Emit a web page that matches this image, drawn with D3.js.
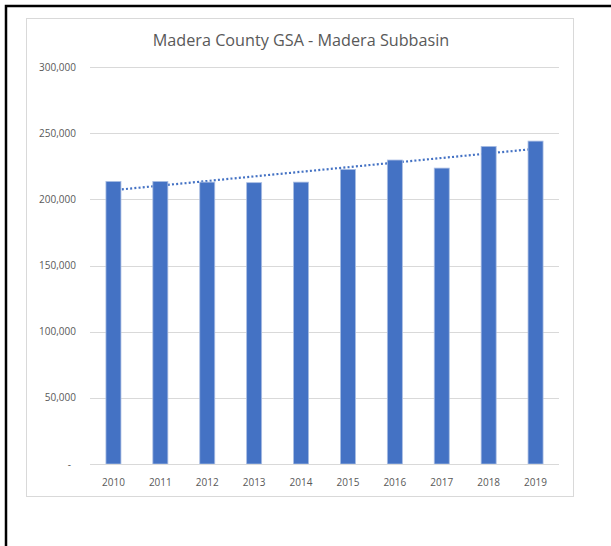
<!DOCTYPE html>
<html>
<head>
<meta charset="utf-8">
<script src="https://cdn.jsdelivr.net/npm/d3@7"></script>
<style>
  html, body { margin: 0; padding: 0; background: #fff; }
  svg { display: block; }
  text { font-family: "Open Sans", "Liberation Sans", sans-serif; fill: #595959; }
</style>
</head>
<body>
<svg id="chart" width="611" height="546"></svg>
<script>
// Madera County GSA - Madera Subbasin (bar + linear trendline)
var years = ['2010', '2011', '2012', '2013', '2014', '2015', '2016', '2017', '2018', '2019'];
var values = [213500, 213500, 213000, 212600, 213000, 222600, 229700, 223600, 240000, 244000];
var yTicks = [0, 50000, 100000, 150000, 200000, 250000, 300000];
var title = 'Madera County GSA - Madera Subbasin';

(function () {
  var svg = d3.select('#chart');
  var M = { left: 90, right: 559, top: 67, bottom: 464 };

  // outer black border (page) + light chart frame
  svg.append('path').attr('d', 'M6,546 L6,6 L611,6').attr('fill', 'none').attr('stroke', '#000').attr('stroke-width', 2.5);
  svg.append('rect').attr('x', 26.5).attr('y', 18.5).attr('width', 547).attr('height', 478)
    .attr('fill', '#fff').attr('stroke', '#d9d9d9').attr('stroke-width', 1);

  var x = d3.scaleBand().domain(years).range([M.left, M.right]).paddingInner(0.68).paddingOuter(0.34);
  var y = d3.scaleLinear().domain([0, 300000]).range([M.bottom, M.top]);

  // gridlines
  svg.append('g').selectAll('line').data(yTicks.slice(1)).enter().append('line')
    .attr('x1', M.left).attr('x2', M.right)
    .attr('y1', function (d) { return Math.round(y(d)) + 0.5; }).attr('y2', function (d) { return Math.round(y(d)) + 0.5; })
    .attr('stroke', '#d9d9d9').attr('stroke-width', 1);

  // y axis labels
  var fmt = d3.format(',');
  svg.append('g').selectAll('text').data(yTicks).enter().append('text')
    .attr('x', function (d) { return d === 0 ? 71 : 76; })
    .attr('y', function (d) { return y(d); }).attr('dy', '0.35em')
    .attr('text-anchor', 'end').attr('font-size', 10)
    .text(function (d) { return d === 0 ? '-' : fmt(d); });

  // linear trendline (least squares on the bar values), drawn under the bars
  var n = values.length, mx = (n - 1) / 2, my = d3.mean(values), sxy = 0, sxx = 0;
  values.forEach(function (v, i) { sxy += (i - mx) * (v - my); sxx += (i - mx) * (i - mx); });
  var slope = sxy / sxx, icpt = my - slope * mx;
  var trend = [0, n - 1].map(function (i) { return [x(years[i]) + x.bandwidth() / 2, y(icpt + slope * i)]; });
  svg.append('path').attr('d', d3.line()(trend)).attr('fill', 'none')
    .attr('stroke', '#4472c4').attr('stroke-width', 2.2).attr('stroke-dasharray', '2,2.2');

  // bars
  svg.append('g').selectAll('rect').data(values).enter().append('rect')
    .attr('x', function (d, i) { return x(years[i]); })
    .attr('width', x.bandwidth())
    .attr('y', function (d) { return y(d); })
    .attr('height', function (d) { return y(0) - y(d); })
    .attr('fill', '#4472c4').attr('stroke', '#a9bde3').attr('stroke-width', 0.8);

  // baseline
  svg.append('line').attr('x1', M.left).attr('x2', M.right).attr('y1', M.bottom + 0.5).attr('y2', M.bottom + 0.5)
    .attr('stroke', '#d9d9d9');

  // x labels
  svg.append('g').selectAll('text').data(years).enter().append('text')
    .attr('x', function (d) { return x(d) + x.bandwidth() / 2; })
    .attr('y', 482).attr('dy', '0.35em').attr('text-anchor', 'middle').attr('font-size', 10)
    .text(function (d) { return d; });

  // title
  svg.append('text').attr('x', 301).attr('y', 46).attr('text-anchor', 'middle')
    .attr('font-size', 16.2).text(title);
})();
</script>
</body>
</html>
